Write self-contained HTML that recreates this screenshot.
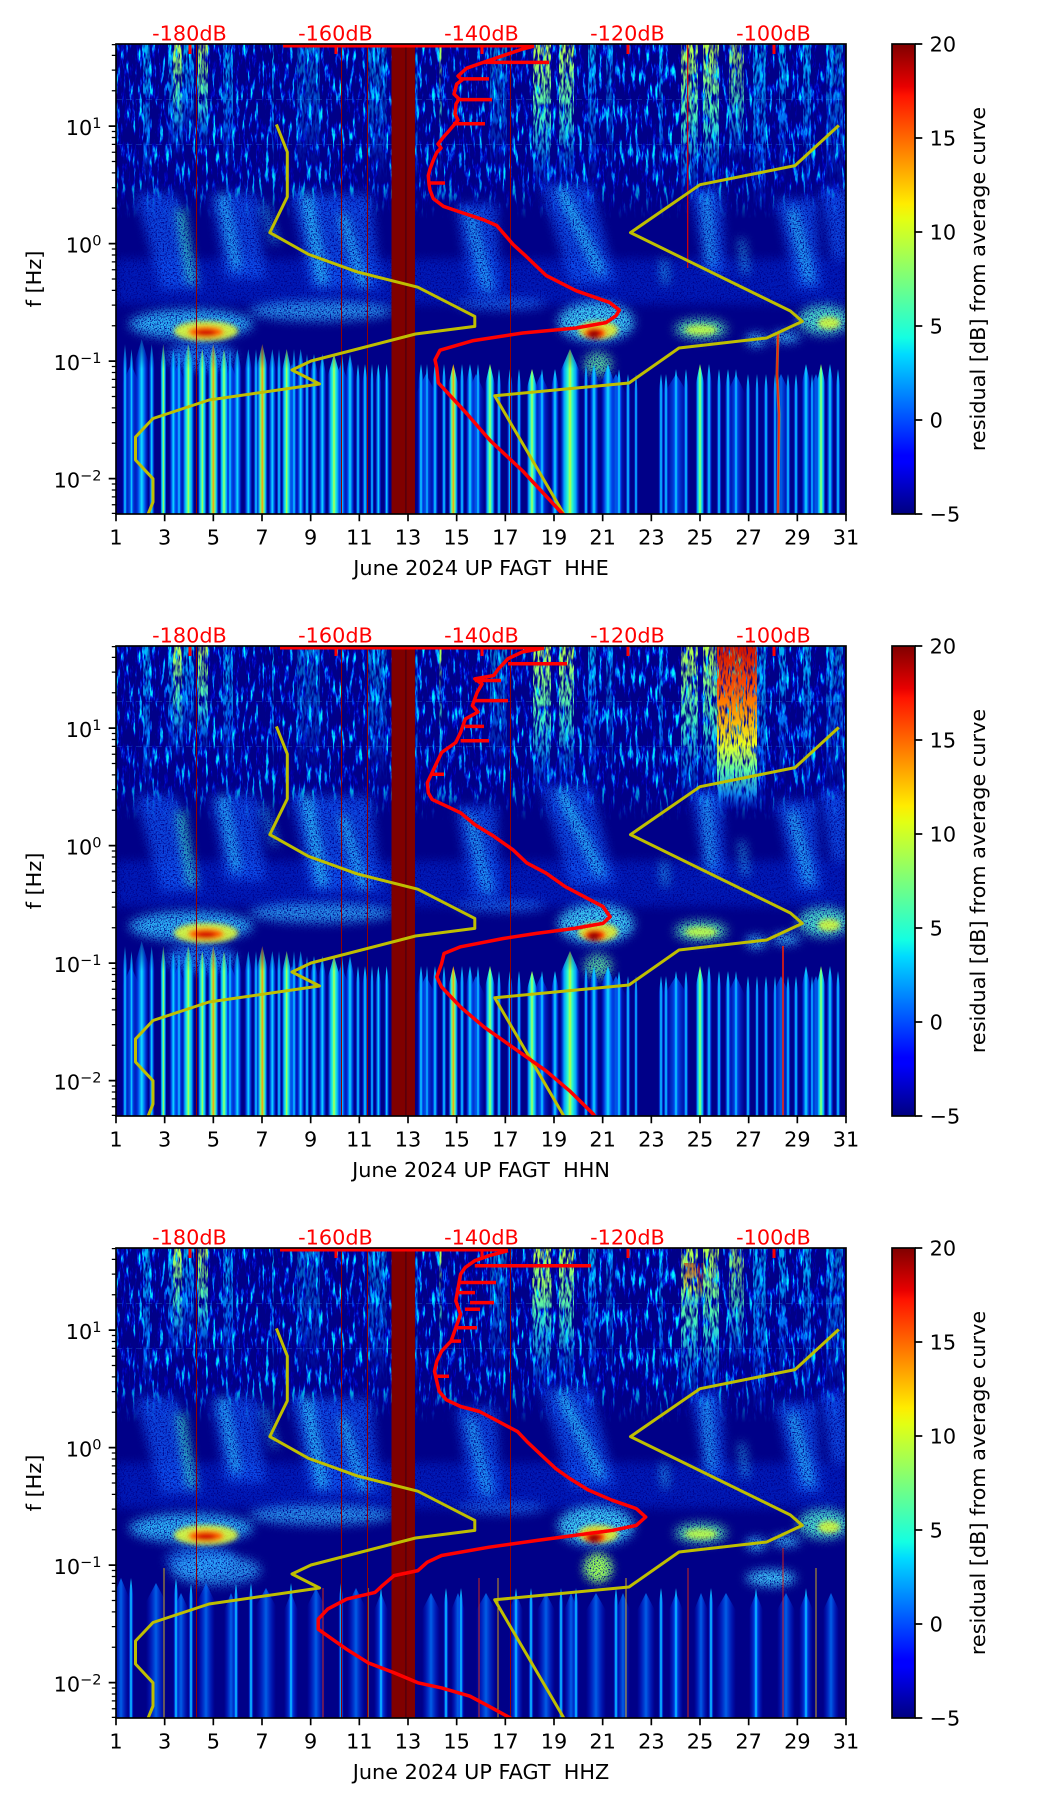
<!DOCTYPE html>
<html>
<head>
<meta charset="utf-8">
<style>
html,body{margin:0;padding:0;background:#fff;}
svg{display:block;}
text{font-family:"DejaVu Sans","Liberation Sans",sans-serif;}
</style>
</head>
<body>
<svg width="1052" height="1806" viewBox="0 0 1052 1806" xmlns="http://www.w3.org/2000/svg">
<defs>
<clipPath id="cAx"><rect x="0" y="0" width="730" height="470"/></clipPath>
<linearGradient id="jet" x1="0" y1="1" x2="0" y2="0">
<stop offset="0" stop-color="#000080"/><stop offset="0.11" stop-color="#0000ff"/><stop offset="0.125" stop-color="#0000ff"/><stop offset="0.34" stop-color="#00dbff"/><stop offset="0.375" stop-color="#14ffe2"/><stop offset="0.5" stop-color="#7bff7b"/><stop offset="0.625" stop-color="#e2ff14"/><stop offset="0.66" stop-color="#ffec00"/><stop offset="0.75" stop-color="#ff9700"/><stop offset="0.89" stop-color="#ff1300"/><stop offset="0.91" stop-color="#e80000"/><stop offset="1" stop-color="#800000"/>
</linearGradient>
<linearGradient id="fadeUp" x1="0" y1="0" x2="0" y2="1"><stop offset="0" stop-color="#fff"/><stop offset="0.78" stop-color="#fff" stop-opacity="0.9"/><stop offset="1" stop-color="#fff" stop-opacity="0"/></linearGradient>
<linearGradient id="vY" x1="0" y1="0" x2="0" y2="1"><stop offset="0" stop-color="#b8ff48"/><stop offset="0.5" stop-color="#40f0c0"/><stop offset="0.8" stop-color="#0090ff" stop-opacity="0.7"/><stop offset="1" stop-color="#0040ff" stop-opacity="0"/></linearGradient>
<linearGradient id="vC" x1="0" y1="0" x2="0" y2="1"><stop offset="0" stop-color="#00c8ff" stop-opacity="0.9"/><stop offset="0.6" stop-color="#0080ff" stop-opacity="0.8"/><stop offset="1" stop-color="#0040ff" stop-opacity="0"/></linearGradient>
<linearGradient id="vO" x1="0" y1="0" x2="0" y2="1"><stop offset="0" stop-color="#d01000"/><stop offset="0.25" stop-color="#ff5000"/><stop offset="0.4" stop-color="#ff9800"/><stop offset="0.6" stop-color="#e8ff20"/><stop offset="0.75" stop-color="#60ffa0"/><stop offset="0.9" stop-color="#10a0ff" stop-opacity="0.8"/><stop offset="1" stop-color="#0040ff" stop-opacity="0"/></linearGradient>
<linearGradient id="gC" x1="0" y1="0" x2="1" y2="0"><stop offset="0" stop-color="#0020ff" stop-opacity="0"/><stop offset="0.3" stop-color="#0070ff" stop-opacity="0.9"/><stop offset="0.5" stop-color="#10e0ff"/><stop offset="0.7" stop-color="#0070ff" stop-opacity="0.9"/><stop offset="1" stop-color="#0020ff" stop-opacity="0"/></linearGradient>
<linearGradient id="gY" x1="0" y1="0" x2="1" y2="0"><stop offset="0" stop-color="#0030ff" stop-opacity="0"/><stop offset="0.2" stop-color="#00a0ff"/><stop offset="0.4" stop-color="#30ffc8"/><stop offset="0.5" stop-color="#c0ff38"/><stop offset="0.6" stop-color="#30ffc8"/><stop offset="0.8" stop-color="#00a0ff"/><stop offset="1" stop-color="#0030ff" stop-opacity="0"/></linearGradient>
<linearGradient id="gO" x1="0" y1="0" x2="1" y2="0"><stop offset="0" stop-color="#0030ff" stop-opacity="0"/><stop offset="0.2" stop-color="#00b0ff"/><stop offset="0.35" stop-color="#70ff80"/><stop offset="0.5" stop-color="#ffa000"/><stop offset="0.65" stop-color="#70ff80"/><stop offset="0.8" stop-color="#00b0ff"/><stop offset="1" stop-color="#0030ff" stop-opacity="0"/></linearGradient>
<linearGradient id="gB" x1="0" y1="0" x2="1" y2="0"><stop offset="0" stop-color="#0020ff" stop-opacity="0"/><stop offset="0.5" stop-color="#0078ff" stop-opacity="0.8"/><stop offset="1" stop-color="#0020ff" stop-opacity="0"/></linearGradient>
<linearGradient id="mg" gradientUnits="userSpaceOnUse" x1="0" y1="285" x2="0" y2="325"><stop offset="0" stop-color="#000"/><stop offset="1" stop-color="#fff"/></linearGradient>
<mask id="mB" maskUnits="userSpaceOnUse" x="0" y="0" width="730" height="470"><rect x="0" y="0" width="730" height="470" fill="url(#mg)"/></mask>

<filter id="fUp" filterUnits="userSpaceOnUse" x="0" y="0" width="730" height="180" color-interpolation-filters="sRGB">
<feTurbulence type="fractalNoise" baseFrequency="0.3 0.05" numOctaves="4" seed="7" result="t"/>
<feColorMatrix in="t" type="matrix" values="0 0 0 0 0  5 0 0 0 -2.9  0 0 0 0 1  6 0 0 0 -3.0" result="c"/>
<feComposite in="c" in2="SourceGraphic" operator="in"/>
</filter>
<filter id="fSpeck" filterUnits="userSpaceOnUse" x="0" y="0" width="730" height="470" color-interpolation-filters="sRGB">
<feTurbulence type="fractalNoise" baseFrequency="0.5 0.1" numOctaves="2" seed="4" result="t"/>
<feColorMatrix in="t" type="matrix" values="0 0 0 0 0  0 0 0 0 0  0 0 0 0 0  4 0 0 0 -1.5" result="a"/>
<feComposite in="SourceGraphic" in2="a" operator="in"/>
</filter>
<filter id="fSpeck2" filterUnits="userSpaceOnUse" x="0" y="0" width="730" height="470" color-interpolation-filters="sRGB">
<feTurbulence type="fractalNoise" baseFrequency="0.6 0.1" numOctaves="2" seed="12" result="t"/>
<feColorMatrix in="t" type="matrix" values="0 0 0 0 0  0 0 0 0 0  0 0 0 0 0  4 0 0 0 -1.1" result="a"/>
<feComposite in="SourceGraphic" in2="a" operator="in"/>
</filter>
<filter id="fStreak" filterUnits="userSpaceOnUse" x="-20" y="0" width="770" height="470" color-interpolation-filters="sRGB">
<feGaussianBlur in="SourceGraphic" stdDeviation="5" result="b"/>
<feTurbulence type="fractalNoise" baseFrequency="0.7" numOctaves="2" seed="9" result="t"/>
<feColorMatrix in="t" type="matrix" values="0 0 0 0 0  0 0 0 0 0  0 0 0 0 0  4 0 0 0 -1.1" result="a"/>
<feComposite in="b" in2="a" operator="in"/>
</filter>
<filter id="fBlur" filterUnits="userSpaceOnUse" x="-20" y="0" width="770" height="470"><feGaussianBlur stdDeviation="2.5"/></filter>

<g id="upper">
<rect x="0" y="0" width="730" height="175" fill="url(#fadeUp)" filter="url(#fUp)"/>
<g filter="url(#fSpeck)">
<rect x="27" y="0" width="7" height="150" fill="url(#vC)"/>
<rect x="52" y="0" width="14" height="115" fill="url(#vC)"/>
<rect x="57" y="0" width="10" height="110" fill="url(#vY)"/>
<rect x="66" y="0" width="12" height="100" fill="url(#vC)"/>
<rect x="82" y="0" width="10" height="108" fill="url(#vY)"/>
<rect x="107" y="0" width="10" height="130" fill="url(#vC)"/>
<rect x="156" y="0" width="2" height="140" fill="url(#vC)"/>
<rect x="181" y="0" width="23" height="130" fill="url(#vC)" opacity="0.6"/>
<rect x="251" y="0" width="20" height="140" fill="url(#vC)" opacity="0.7"/>
<rect x="299.5" y="0" width="2" height="150" fill="url(#vC)"/>
<rect x="323.5" y="0" width="2" height="130" fill="url(#vY)"/>
<rect x="374" y="0" width="17" height="130" fill="url(#vC)" opacity="0.7"/>
<rect x="417" y="0" width="18" height="147" fill="url(#vY)"/>
<rect x="443" y="0" width="15" height="140" fill="url(#vY)"/>
<rect x="472" y="0" width="8" height="140" fill="url(#vC)"/>
<rect x="490" y="0" width="7" height="140" fill="url(#vC)" opacity="0.6"/>
<rect x="543" y="0" width="4" height="150" fill="url(#vC)"/>
<rect x="565" y="0" width="17" height="155" fill="url(#vY)"/>
<rect x="587" y="0" width="16" height="150" fill="url(#vY)"/>
<rect x="613" y="0" width="15" height="120" fill="url(#vY)" opacity="0.8"/>
<rect x="637" y="0" width="13" height="165" fill="url(#vC)"/>
<rect x="663" y="0" width="7" height="140" fill="url(#vC)"/>
<rect x="687" y="0" width="8" height="150" fill="url(#vC)"/>
<rect x="710" y="0" width="17" height="150" fill="url(#vC)" opacity="0.7"/>
</g>
<path d="M0,55.5H730M0,100.5H730" stroke="#40c0ff" stroke-width="1" stroke-dasharray="6 4" opacity="0.2"/>
</g>

<g id="mid">
<g filter="url(#fStreak)">
<rect x="0" y="215" width="730" height="45" fill="#0040ff" opacity="0.4"/>
<g fill="#1060ff" opacity="0.7">
<polygon points="20,150 60,150 85,245 45,245"/>
<polygon points="95,150 140,150 150,235 110,235"/>
<polygon points="175,150 255,150 265,245 195,245"/>
<polygon points="340,160 380,160 385,250 355,250"/>
<polygon points="425,140 475,140 500,240 455,240"/>
<polygon points="575,145 605,145 610,230 590,230"/>
<polygon points="660,155 700,155 705,245 680,245"/>
<polygon points="705,145 732,145 732,215 715,215"/>
</g>
<g fill="#30d8ff" opacity="0.9">
<polygon points="60,165 68,165 80,240 72,240" fill="#40f0c0"/>
<polygon points="102,150 110,150 125,225 117,225"/>
<polygon points="185,150 195,150 212,240 202,240"/>
<polygon points="222,170 230,170 252,243 244,243"/>
<polygon points="350,170 357,170 376,247 369,247"/>
<polygon points="440,145 450,145 490,230 480,230"/>
<polygon points="587,150 593,150 598,222 592,222"/>
<polygon points="672,165 680,165 698,238 690,238"/>
<polygon points="145,160 150,160 162,200 157,200"/>
<polygon points="545,215 550,215 552,240 547,240"/>
<polygon points="623,195 628,195 632,230 627,230"/>
</g>
<ellipse cx="75" cy="280" rx="62" ry="15" fill="#30c0ff" opacity="0.9"/>
<ellipse cx="205" cy="267" rx="72" ry="10" fill="#30b0ff" opacity="0.8"/>
<ellipse cx="385" cy="260" rx="45" ry="6" fill="#2080ff" opacity="0.7"/>
<ellipse cx="480" cy="278" rx="38" ry="20" fill="#40e0ff" opacity="0.9"/>
<ellipse cx="585" cy="285" rx="26" ry="10" fill="#60ffb0" opacity="0.9"/>
<ellipse cx="640" cy="296" rx="10" ry="6" fill="#40d0ff"/>
<ellipse cx="670" cy="293" rx="14" ry="5" fill="#40d0ff"/>
<ellipse cx="708" cy="276" rx="26" ry="15" fill="#50f0d0" opacity="0.9"/>
<ellipse cx="85" cy="312" rx="35" ry="14" fill="#2090ff" opacity="0.75"/>
<ellipse cx="482" cy="320" rx="14" ry="12" fill="#60f0a0" opacity="0.85"/>
</g>
<g filter="url(#fBlur)">
<ellipse cx="90" cy="287" rx="32" ry="10" fill="#e8ff30" opacity="0.85"/>
<ellipse cx="90" cy="288" rx="18" ry="6" fill="#ff6000"/>
<ellipse cx="90" cy="289" rx="10" ry="3.5" fill="#d00000"/>
<ellipse cx="482" cy="286" rx="20" ry="9" fill="#f0f020" opacity="0.85"/>
<ellipse cx="479" cy="289" rx="11" ry="6" fill="#ff2000"/>
<ellipse cx="478" cy="290" rx="6" ry="4" fill="#900000"/>
<ellipse cx="713" cy="279" rx="11" ry="6" fill="#e0ff30" opacity="0.8"/>
<ellipse cx="585" cy="286" rx="16" ry="5" fill="#c8ff40" opacity="0.8"/>
</g>
</g>

<!-- tapered bar: unit shape (width 1, top at 0, height 1) -->
<path id="ub" d="M0,1V0.14L0.5,0L1,0.14V1Z"/>

<g id="barsA" mask="url(#mB)">
<g fill="url(#gB)">
<use href="#ub" transform="translate(6,320) scale(18,150)"/>
<use href="#ub" transform="translate(54,320) scale(16,150)"/>
<use href="#ub" transform="translate(107,320) scale(16,150)"/>
<use href="#ub" transform="translate(168,320) scale(16,150)"/>
<use href="#ub" transform="translate(216,320) scale(18,150)"/>
<use href="#ub" transform="translate(300,330) scale(20,140)"/>
<use href="#ub" transform="translate(351,330) scale(18,140)"/>
<use href="#ub" transform="translate(416,330) scale(18,140)"/>
<use href="#ub" transform="translate(490,330) scale(20,140)"/>
<use href="#ub" transform="translate(548,330) scale(24,140)"/>
<use href="#ub" transform="translate(611,330) scale(18,140)"/>
<use href="#ub" transform="translate(656,330) scale(18,140)"/>
<use href="#ub" transform="translate(692,330) scale(16,140)"/>
</g>
<g fill="url(#gC)">
<use href="#ub" transform="translate(6.5,300) scale(5,170)"/>
<use href="#ub" transform="translate(13,305) scale(5,165)"/>
<use href="#ub" transform="translate(18.7,295) scale(14,175)"/>
<use href="#ub" transform="translate(32.7,300) scale(6,170)"/>
<use href="#ub" transform="translate(53.3,305) scale(8,165)"/>
<use href="#ub" transform="translate(60.5,305) scale(5,165)"/>
<use href="#ub" transform="translate(111.5,305) scale(5,165)"/>
<use href="#ub" transform="translate(116.8,305) scale(9,165)"/>
<use href="#ub" transform="translate(128.3,305) scale(8,165)"/>
<use href="#ub" transform="translate(137.5,305) scale(5,165)"/>
<use href="#ub" transform="translate(152.3,305) scale(8,165)"/>
<use href="#ub" transform="translate(160.5,305) scale(5,165)"/>
<use href="#ub" transform="translate(175.5,305) scale(5,165)"/>
<use href="#ub" transform="translate(180.7,305) scale(8,165)"/>
<use href="#ub" transform="translate(188.5,310) scale(5,160)"/>
<use href="#ub" transform="translate(194,310) scale(8,160)"/>
<use href="#ub" transform="translate(202.3,310) scale(8,160)"/>
<use href="#ub" transform="translate(223,310) scale(6,160)"/>
<use href="#ub" transform="translate(229.5,310) scale(9,160)"/>
<use href="#ub" transform="translate(239.5,320) scale(5,150)"/>
<use href="#ub" transform="translate(246,320) scale(6,150)"/>
<use href="#ub" transform="translate(254,320) scale(4,150)"/>
<use href="#ub" transform="translate(259.3,320) scale(6,150)"/>
<use href="#ub" transform="translate(268.2,320) scale(5,150)"/>
<use href="#ub" transform="translate(302,320) scale(6,150)"/>
<use href="#ub" transform="translate(309,320) scale(4,150)"/>
<use href="#ub" transform="translate(316,320) scale(6,150)"/>
<use href="#ub" transform="translate(325.5,320) scale(5,150)"/>
<use href="#ub" transform="translate(343.5,320) scale(5,150)"/>
<use href="#ub" transform="translate(350,320) scale(8,150)"/>
<use href="#ub" transform="translate(359.5,320) scale(5,150)"/>
<use href="#ub" transform="translate(380.5,325) scale(5,145)"/>
<use href="#ub" transform="translate(391,325) scale(6,145)"/>
<use href="#ub" transform="translate(400.5,325) scale(5,145)"/>
<use href="#ub" transform="translate(423,325) scale(6,145)"/>
<use href="#ub" transform="translate(435,325) scale(8,145)"/>
<use href="#ub" transform="translate(467.5,320) scale(5,150)"/>
<use href="#ub" transform="translate(473.5,320) scale(9,150)"/>
<use href="#ub" transform="translate(485,320) scale(14,150)"/>
<use href="#ub" transform="translate(500,325) scale(6,145)"/>
<use href="#ub" transform="translate(509.5,330) scale(5,140)"/>
<use href="#ub" transform="translate(518,330) scale(4,140)"/>
<use href="#ub" transform="translate(542.5,330) scale(5,140)"/>
<use href="#ub" transform="translate(547.5,330) scale(5,140)"/>
<use href="#ub" transform="translate(557,325) scale(6,145)"/>
<use href="#ub" transform="translate(567.5,325) scale(5,145)"/>
<use href="#ub" transform="translate(590,320) scale(6,150)"/>
<use href="#ub" transform="translate(600.5,325) scale(5,145)"/>
<use href="#ub" transform="translate(609,325) scale(6,145)"/>
<use href="#ub" transform="translate(617.5,325) scale(5,145)"/>
<use href="#ub" transform="translate(629.5,330) scale(5,140)"/>
<use href="#ub" transform="translate(639,330) scale(4,140)"/>
<use href="#ub" transform="translate(647.5,330) scale(5,140)"/>
<use href="#ub" transform="translate(657,330) scale(4,140)"/>
<use href="#ub" transform="translate(669.5,330) scale(5,140)"/>
<use href="#ub" transform="translate(677.5,330) scale(5,140)"/>
<use href="#ub" transform="translate(685.5,320) scale(9,150)"/>
<use href="#ub" transform="translate(694,330) scale(4,140)"/>
<use href="#ub" transform="translate(710.5,320) scale(7,150)"/>
<use href="#ub" transform="translate(719.5,325) scale(5,145)"/>
</g>
<g fill="url(#gY)">
<use href="#ub" transform="translate(44.3,300) scale(6,170)"/>
<use href="#ub" transform="translate(66.3,300) scale(12,170)"/>
<use href="#ub" transform="translate(81.8,305) scale(9,165)"/>
<use href="#ub" transform="translate(103.5,305) scale(9,165)"/>
<use href="#ub" transform="translate(165.7,305) scale(10,165)"/>
<use href="#ub" transform="translate(211.5,310) scale(13,160)"/>
<use href="#ub" transform="translate(369,320) scale(10,150)"/>
<use href="#ub" transform="translate(410.5,325) scale(11,145)"/>
<use href="#ub" transform="translate(444,305) scale(20,165)"/>
<use href="#ub" transform="translate(579.5,320) scale(9,150)"/>
<use href="#ub" transform="translate(700.5,320) scale(9,150)"/>
</g>
<g fill="url(#gO)">
<use href="#ub" transform="translate(91.8,300) scale(11,170)"/>
<use href="#ub" transform="translate(140.8,300) scale(11,170)"/>
<use href="#ub" transform="translate(332.3,320) scale(10,150)"/>
</g>
</g>

<g id="barsZ" mask="url(#mB)">
<g fill="url(#gB)">
<use href="#ub" transform="translate(-3,330) scale(16,140)"/>
<use href="#ub" transform="translate(30,335) scale(20,135)"/>
<use href="#ub" transform="translate(57,345) scale(16,125)"/>
<use href="#ub" transform="translate(81,335) scale(18,135)"/>
<use href="#ub" transform="translate(108,345) scale(14,125)"/>
<use href="#ub" transform="translate(140,340) scale(20,130)"/>
<use href="#ub" transform="translate(168,345) scale(14,125)"/>
<use href="#ub" transform="translate(191,340) scale(18,130)"/>
<use href="#ub" transform="translate(231,340) scale(18,130)"/>
<use href="#ub" transform="translate(258,345) scale(14,125)"/>
<use href="#ub" transform="translate(306,345) scale(18,125)"/>
<use href="#ub" transform="translate(335,345) scale(14,125)"/>
<use href="#ub" transform="translate(360,345) scale(20,125)"/>
<use href="#ub" transform="translate(393,345) scale(14,125)"/>
<use href="#ub" transform="translate(421,345) scale(18,125)"/>
<use href="#ub" transform="translate(448,345) scale(14,125)"/>
<use href="#ub" transform="translate(470,345) scale(20,125)"/>
<use href="#ub" transform="translate(500,345) scale(14,125)"/>
<use href="#ub" transform="translate(521,345) scale(18,125)"/>
<use href="#ub" transform="translate(553,345) scale(14,125)"/>
<use href="#ub" transform="translate(578,345) scale(14,125)"/>
<use href="#ub" transform="translate(600,345) scale(20,125)"/>
<use href="#ub" transform="translate(633,345) scale(14,125)"/>
<use href="#ub" transform="translate(661,345) scale(18,125)"/>
<use href="#ub" transform="translate(683,345) scale(14,125)"/>
<use href="#ub" transform="translate(707,345) scale(16,125)"/>
</g>
<g fill="url(#gC)">
<use href="#ub" transform="translate(12.5,330) scale(5,140)"/>
<use href="#ub" transform="translate(57.5,330) scale(5,140)"/>
<use href="#ub" transform="translate(72.5,335) scale(5,135)"/>
<use href="#ub" transform="translate(117.5,335) scale(5,135)"/>
<use href="#ub" transform="translate(132.5,335) scale(5,135)"/>
<use href="#ub" transform="translate(172.5,335) scale(5,135)"/>
<use href="#ub" transform="translate(222.5,335) scale(5,135)"/>
<use href="#ub" transform="translate(262.5,340) scale(5,130)"/>
<use href="#ub" transform="translate(327.5,340) scale(5,130)"/>
<use href="#ub" transform="translate(342.5,340) scale(5,130)"/>
<use href="#ub" transform="translate(397.5,340) scale(5,130)"/>
<use href="#ub" transform="translate(412.5,340) scale(5,130)"/>
<use href="#ub" transform="translate(442.5,340) scale(5,130)"/>
<use href="#ub" transform="translate(457.5,340) scale(5,130)"/>
<use href="#ub" transform="translate(497.5,340) scale(5,130)"/>
<use href="#ub" transform="translate(542.5,340) scale(5,130)"/>
<use href="#ub" transform="translate(557.5,340) scale(5,130)"/>
<use href="#ub" transform="translate(592.5,340) scale(5,130)"/>
<use href="#ub" transform="translate(637.5,340) scale(5,130)"/>
<use href="#ub" transform="translate(687.5,340) scale(5,130)"/>
</g>
</g>

<g id="ylines" fill="none" stroke="#bfbf00" stroke-width="3" stroke-linejoin="round">
<path d="M160.4,80.4 L171.3,108 L171.3,152.8 L153.8,188.6 L192.7,210.4 L240.9,227.8 L301.8,243.2 L358.8,272.4 L358.8,282.4 L299.5,290 L195,317 L176,326 L203.6,340 L93,356 L37,374.5 L19.5,393 L19.5,416 L37,434.8 L37,458 L31.3,472"/>
<path d="M722.8,81.4 L679,121.6 L584,140.7 L514.5,188.6 L674.4,267 L686.3,277.4 L650.7,294 L563,304 L513,339 L378.7,351.8 L449,472"/>
</g>

<g id="vlines">
<g fill="#900000">
<rect x="80" y="0" width="1" height="470"/>
<rect x="225" y="0" width="1" height="470"/>
<rect x="251" y="0" width="1" height="470"/>
<rect x="394" y="0" width="1" height="470"/>
</g>
<rect x="275.5" y="0" width="23.5" height="470" fill="#800000"/>
<rect x="289.3" y="0" width="1.2" height="470" fill="#4a0010"/>
</g>
<g id="rticks" fill="#ff0000">
<rect x="72.5" y="0" width="3" height="10"/>
<rect x="218.5" y="0" width="3" height="10"/>
<rect x="364.5" y="0" width="3" height="10"/>
<rect x="510.5" y="0" width="3" height="10"/>
<rect x="656.5" y="0" width="3" height="10"/>
</g>

<g id="deco">
<rect x="116" y="44" width="730" height="470" fill="none" stroke="#000" stroke-width="1.67"/>
<path stroke="#000" stroke-width="1.67" fill="none" d="M116,514v7.3M164.67,514v7.3M213.33,514v7.3M262,514v7.3M310.67,514v7.3M359.33,514v7.3M408,514v7.3M456.67,514v7.3M505.33,514v7.3M554,514v7.3M602.67,514v7.3M651.33,514v7.3M700,514v7.3M748.67,514v7.3M797.33,514v7.3M846,514v7.3M116,126.13h-7.3M116,243.63h-7.3M116,361.13h-7.3M116,478.63h-7.3"/>
<path stroke="#000" stroke-width="1.25" fill="none" d="M116,44.6h-4.2M116,55.39h-4.2M116,70.07h-4.2M116,90.76h-4.2M116,131.51h-4.2M116,137.52h-4.2M116,144.33h-4.2M116,152.2h-4.2M116,161.5h-4.2M116,172.89h-4.2M116,187.57h-4.2M116,208.26h-4.2M116,249.01h-4.2M116,255.02h-4.2M116,261.83h-4.2M116,269.7h-4.2M116,279h-4.2M116,290.39h-4.2M116,305.07h-4.2M116,325.76h-4.2M116,366.51h-4.2M116,372.52h-4.2M116,379.33h-4.2M116,387.2h-4.2M116,396.5h-4.2M116,407.89h-4.2M116,422.57h-4.2M116,443.26h-4.2M116,484.01h-4.2M116,490.02h-4.2M116,496.83h-4.2M116,504.7h-4.2M116,513.4h-4.2"/>
<g font-size="20.8" text-anchor="middle" fill="#000">
<text x="116" y="544.5">1</text><text x="164.67" y="544.5">3</text><text x="213.33" y="544.5">5</text><text x="262" y="544.5">7</text><text x="310.67" y="544.5">9</text><text x="359.33" y="544.5">11</text><text x="408" y="544.5">13</text><text x="456.67" y="544.5">15</text><text x="505.33" y="544.5">17</text><text x="554" y="544.5">19</text><text x="602.67" y="544.5">21</text><text x="651.33" y="544.5">23</text><text x="700" y="544.5">25</text><text x="748.67" y="544.5">27</text><text x="797.33" y="544.5">29</text><text x="846" y="544.5">31</text>
</g>
<g font-size="20.8" text-anchor="end" fill="#000">
<text x="101.5" y="135.1">10<tspan font-size="14.5" dy="-7.3">1</tspan></text>
<text x="101.5" y="252.6">10<tspan font-size="14.5" dy="-7.3">0</tspan></text>
<text x="101.5" y="370.1">10<tspan font-size="14.5" dy="-7.3">−1</tspan></text>
<text x="101.5" y="487.6">10<tspan font-size="14.5" dy="-7.3">−2</tspan></text>
</g>
<text font-size="20.8" text-anchor="middle" transform="translate(41,279) rotate(-90)">f [Hz]</text>
<g font-size="20.8" text-anchor="middle" fill="#ff0000">
<text x="189.5" y="40.5">-180dB</text><text x="335.5" y="40.5">-160dB</text><text x="481.5" y="40.5">-140dB</text><text x="627.5" y="40.5">-120dB</text><text x="773.5" y="40.5">-100dB</text>
</g>
<rect x="892" y="44" width="23" height="470" fill="url(#jet)" stroke="#000" stroke-width="1.67"/>
<path stroke="#000" stroke-width="1.67" d="M915,44h7.3M915,138h7.3M915,232h7.3M915,326h7.3M915,420h7.3M915,514h7.3"/>
<g font-size="20.8" fill="#000">
<text x="929.6" y="51.5">20</text><text x="929.6" y="145.5">15</text><text x="929.6" y="239.5">10</text><text x="929.6" y="333.5">5</text><text x="929.6" y="427.5">0</text><text x="929.6" y="521.5">−5</text>
</g>
<text font-size="20.8" text-anchor="middle" transform="translate(985,279) rotate(-90)">residual [dB] from average curve</text>
</g>
</defs>

<rect x="0" y="0" width="1052" height="1806" fill="#fff"/>

<!-- Panel 1 : HHE -->
<g transform="translate(116,44)">
<g clip-path="url(#cAx)">
<rect x="0" y="0" width="730" height="470" fill="#000088"/>
<use href="#upper"/>
<use href="#mid"/>
<use href="#barsA"/>
<path d="M571.7,0V224" stroke="#e00000" stroke-width="1.2"/>
<path d="M662,290 L661,330 L663,370 L662,470" stroke="#ffd000" stroke-width="3" opacity="0.5" fill="none"/>
<path d="M662,290 L661,330 L663,370 L662,470" stroke="#ff2000" stroke-width="1.5" fill="none"/>
<use href="#vlines"/>
<use href="#ylines"/>
<g fill="none" stroke="#ff0000" stroke-width="3.5" stroke-linejoin="round">
<path d="M167,1.8H418"/>
<path d="M418,2 L406.7,5 L384,12.7 L367.3,18.4 L350.7,24.2 L342,32 L346,36 L340.7,40 L338,50 L343,55 L340,60 L339,70 L342,76 L337.3,81.7 L332,88 L327.3,93.2 L322,100 L325,104 L320.7,108.6 L317.3,116.3 L314,125 L312.3,131.6 L313,140 L314,146 L317.3,154.6 L327.3,162.3 L344,168 L367.3,175.7 L380.7,181.5 L397.3,200.7 L410,212.2 L430,231.4 L460,246.7 L493.3,258.3 L503.3,266 L500,271.7 L490,278.6 L460,284 L406.7,289 L357.3,296.6 L324,306.2 L319,315.8 L320.7,323.5 L322.3,338.8 L350.7,369.5 L374,396.4 L406.7,427 L446.7,470 L451,475"/>
<path d="M367,18.4H433M344,34.9H373M344,55.6H376M337,79.8H369M314,139H329"/>
</g>
<use href="#rticks"/>
</g>
</g>
<use href="#deco"/>
<text x="481" y="575" font-size="20.8" text-anchor="middle" style="white-space:pre">June 2024 UP FAGT  HHE</text>

<!-- Panel 2 : HHN -->
<g transform="translate(116,646)">
<g clip-path="url(#cAx)">
<rect x="0" y="0" width="730" height="470" fill="#000088"/>
<use href="#upper"/>
<rect x="601" y="0" width="40" height="165" fill="url(#vO)" filter="url(#fSpeck2)"/>
<use href="#mid"/>
<use href="#barsA"/>
<path d="M667,300V470" stroke="#ff2000" stroke-width="1.5"/>
<use href="#vlines"/>
<use href="#ylines"/>
<g fill="none" stroke="#ff0000" stroke-width="3.5" stroke-linejoin="round">
<path d="M164,1.8H428"/>
<path d="M427.6,2 L406.3,6 L392,12.7 L382.5,22.8 L377.8,29.5 L358.8,32.8 L366,38 L361.2,46.2 L356.4,59.6 L362,66 L349.3,73 L344.6,86.4 L339.8,96.5 L325.6,106.5 L320.8,116.6 L316.1,126.6 L311.3,136.7 L312.3,146.7 L316.1,153.4 L330.3,160.1 L344.6,166.8 L358.8,178.6 L377.8,190.3 L396.8,203.7 L411,217.1 L430,227.1 L449,240.5 L468,250.6 L487,260.6 L494.1,270.7 L487,277.4 L458.5,282.4 L420.5,287.4 L387.3,292.5 L344.6,300.8 L328,307.5 L325.6,317.6 L320.8,331 L325.6,341 L344.6,361.1 L368.3,381.2 L396.8,401.3 L430,424.8 L453.7,444.9 L477.5,468.3 L480,472"/>
<path d="M392,17.8H451M358.8,34.5H385M358.8,54.6H392M349,80.4H368M344.6,94.8H373M316,128.3H328"/>
</g>
<use href="#rticks"/>
</g>
</g>
<use href="#deco" transform="translate(0,602)"/>
<text x="481" y="1177" font-size="20.8" text-anchor="middle" style="white-space:pre">June 2024 UP FAGT  HHN</text>

<!-- Panel 3 : HHZ -->
<g transform="translate(116,1248)">
<g clip-path="url(#cAx)">
<rect x="0" y="0" width="730" height="470" fill="#000088"/>
<use href="#upper"/>
<rect x="568" y="15" width="19" height="45" fill="url(#vO)" opacity="0.6" filter="url(#fSpeck)"/>
<rect x="416" y="30" width="20" height="70" fill="url(#vY)" opacity="0.6" filter="url(#fSpeck)"/>
<use href="#mid"/>
<g filter="url(#fStreak)">
<ellipse cx="100" cy="322" rx="45" ry="15" fill="#30b0ff" opacity="0.8"/>
<ellipse cx="482" cy="320" rx="12" ry="14" fill="#a0ff50"/>
<ellipse cx="655" cy="330" rx="25" ry="8" fill="#40d0ff"/>
</g>
<use href="#barsZ"/>
<g stroke-width="1" fill="none" opacity="0.8">
<path d="M48,320V470" stroke="#ffd000"/>
<path d="M207,340V470" stroke="#ff3000"/>
<path d="M252,340V470" stroke="#ffd000"/>
<path d="M363,330V470" stroke="#ff3000"/>
<path d="M382,330V470" stroke="#ffc000"/>
<path d="M510,330V470" stroke="#ffd000"/>
<path d="M572,320V470" stroke="#ff3000"/>
<path d="M667,300V470" stroke="#ff2000"/>
<path d="M700,320V470" stroke="#ffd000"/>
</g>
<use href="#vlines"/>
<use href="#ylines"/>
<g fill="none" stroke="#ff0000" stroke-width="3.5" stroke-linejoin="round">
<path d="M164,1.8H392"/>
<path d="M392,2.7 L373,7.7 L358.8,12.7 L349.3,19.4 L344.6,26.1 L342.2,39.5 L339.8,52.9 L344.6,66.3 L339.8,79.7 L335.1,93.1 L325.6,103.2 L320.8,113.2 L318.5,123.3 L320.8,133.3 L323.2,143.4 L330.3,151.8 L344.6,158.5 L363.5,163.5 L382.5,173.5 L401.5,183.6 L411,193.6 L425.2,207 L439.5,220.4 L453.7,230.5 L472.7,242.2 L496.4,252.3 L520.2,260.6 L529.7,269 L520.2,277.4 L496.4,282.4 L458.5,287.4 L420.5,292.5 L373,299.2 L325.6,307.5 L311.3,314.2 L301.9,322.6 L278.1,327.6 L266.3,337.7 L259.1,344.4 L230.7,351.1 L211.7,361.1 L202.2,371.2 L202.2,381.2 L211.7,387.9 L230.7,401.3 L252,414.7 L278.1,424.8 L301.9,434.8 L325.6,439.9 L354,448.2 L373,458.3 L394.4,470 L398,473"/>
<path d="M358.8,17.8H475M344.6,34.5H380M340,44.6H359M354,54.6H378M349,61.3H364M340,79.7H361M335,93.1H345M321,128.3H333"/>
</g>
<use href="#rticks"/>
</g>
</g>
<use href="#deco" transform="translate(0,1204)"/>
<text x="481" y="1779" font-size="20.8" text-anchor="middle" style="white-space:pre">June 2024 UP FAGT  HHZ</text>
</svg>
</body>
</html>
